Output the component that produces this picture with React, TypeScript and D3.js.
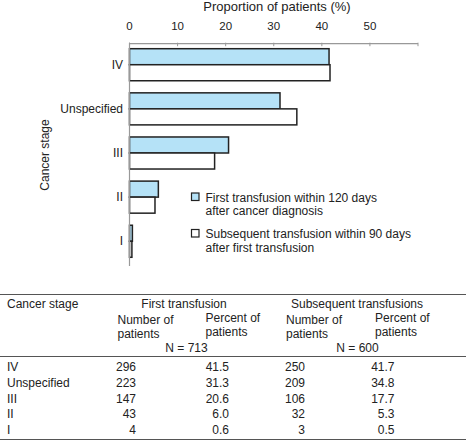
import React from "react";
import * as d3 from "d3";

const stages = ["IV", "Unspecified", "III", "II", "I"];
const firstPct = [41.5, 31.3, 20.6, 6.0, 0.6];
const subsPct = [41.7, 34.8, 17.7, 5.3, 0.5];
const firstN = [296, 223, 147, 43, 4];
const subsN = [250, 209, 106, 32, 3];
const xTicks = [0, 10, 20, 30, 40, 50];
const legendLines = [
  ["First transfusion within 120 days", "after cancer diagnosis"],
  ["Subsequent transfusion within 90 days", "after first transfusion"],
];
const totals = ["N = 713", "N = 600"];

const FONT = "Liberation Sans, Arial, sans-serif";
const BLUE = "#b5e2f7";
const TXT = "#222";

export default function App() {
  const x = d3.scaleLinear().domain([0, 60]).range([129.5, 418]);
  const y = d3.scaleBand<string>().domain(stages).range([42, 264]).paddingInner(0.274).paddingOuter(0.152);
  const sub = d3.scaleBand<string>().domain(["first", "subs"]).range([0, y.bandwidth()]);
  const axisY = 43.7;

  const rowY = d3.scalePoint<string>().domain(stages).range([371, 434]);
  const colRight = [136, 229, 305, 394.5];

  return (
    <svg width={466} height={441} style={{ position: "absolute", left: 0, top: 0 }} fontFamily={FONT}>
      <rect width={466} height={441} fill="#fff" />
      <text x={277} y={11} fontSize={13} textAnchor="middle" fill={TXT}>Proportion of patients (%)</text>
      {xTicks.map((t) => (
        <text key={t} x={x(t)} y={30} fontSize={11.5} textAnchor="middle" fill={TXT}>{t}</text>
      ))}
      {stages.map((s, i) => (
        <g key={s}>
          <rect x={x(0)} y={y(s)! + sub("first")!} width={x(firstPct[i]) - x(0)} height={sub.bandwidth()} fill={BLUE} stroke="#222" strokeWidth={1.5} />
          <rect x={x(0)} y={y(s)! + sub("subs")!} width={x(subsPct[i]) - x(0)} height={sub.bandwidth()} fill="#fff" stroke="#222" strokeWidth={1.5} />
          <text x={123} y={y(s)! + y.bandwidth() / 2 + 4} fontSize={12} textAnchor="end" fill={TXT}>{s}</text>
        </g>
      ))}
      <line x1={x(0)} x2={x(60)} y1={axisY} y2={axisY} stroke="#999" strokeWidth={1.2} />
      {[...xTicks, 60].map((t) => (
        <line key={t} x1={x(t)} x2={x(t)} y1={axisY - 1} y2={axisY + 2.5} stroke="#999" strokeWidth={1} />
      ))}
      <line x1={x(0)} x2={x(0)} y1={axisY - 1} y2={266} stroke="#999" strokeWidth={1.2} />
      <text transform="translate(49,155) rotate(-90)" fontSize={12} textAnchor="middle" fill={TXT}>Cancer stage</text>
      {legendLines.map((lines, i) => (
        <g key={i} transform={`translate(0, ${i * 36.5})`}>
          <rect x={191.5} y={193} width={7.5} height={7.5} fill={i === 0 ? BLUE : "#fff"} stroke="#222" strokeWidth={1.2} />
          <text x={205.5} y={201.5} fontSize={12} fill={TXT}>{lines[0]}</text>
          <text x={205.5} y={215} fontSize={12} fill={TXT}>{lines[1]}</text>
        </g>
      ))}
      {/* table */}
      <line x1={0} x2={466} y1={294.5} y2={294.5} stroke="#555" strokeWidth={1} />
      <line x1={0} x2={466} y1={356.5} y2={356.5} stroke="#555" strokeWidth={1} />
      <line x1={0} x2={466} y1={439.5} y2={439.5} stroke="#555" strokeWidth={1} />
      <g fontSize={12} fill={TXT}>
        <text x={7} y={307.5}>Cancer stage</text>
        <text x={184} y={307.5} textAnchor="middle">First transfusion</text>
        <text x={357} y={307.5} textAnchor="middle">Subsequent transfusions</text>
        {[117.5, 286].map((cx, i) => (
          <g key={"n" + i}>
            <text x={cx} y={324}>Number of</text>
            <text x={cx} y={338}>patients</text>
          </g>
        ))}
        {[205.5, 375].map((cx, i) => (
          <g key={"p" + i}>
            <text x={cx} y={322}>Percent of</text>
            <text x={cx} y={336}>patients</text>
          </g>
        ))}
        <text x={186.5} y={352} textAnchor="middle">{totals[0]}</text>
        <text x={357.5} y={352} textAnchor="middle">{totals[1]}</text>
        {stages.map((s, i) => (
          <g key={"r" + s}>
            <text x={7} y={rowY(s)}>{s}</text>
            <text x={colRight[0]} y={rowY(s)} textAnchor="end">{firstN[i]}</text>
            <text x={colRight[1]} y={rowY(s)} textAnchor="end">{firstPct[i].toFixed(1)}</text>
            <text x={colRight[2]} y={rowY(s)} textAnchor="end">{subsN[i]}</text>
            <text x={colRight[3]} y={rowY(s)} textAnchor="end">{subsPct[i].toFixed(1)}</text>
          </g>
        ))}
      </g>
    </svg>
  );
}
